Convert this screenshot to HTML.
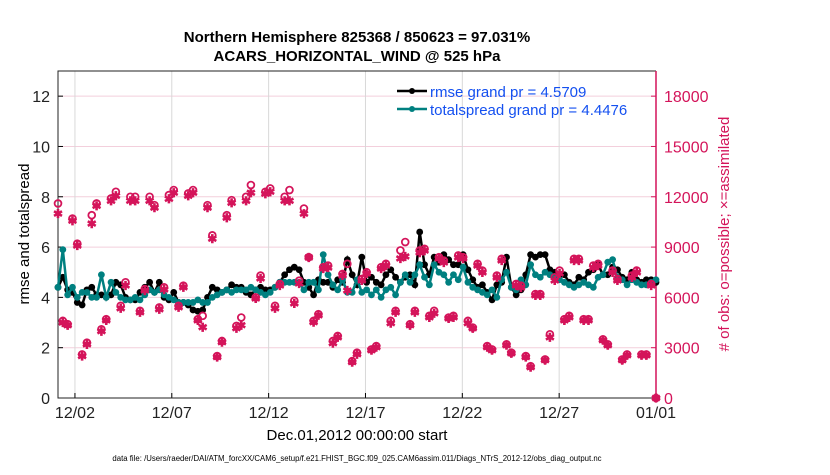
<!DOCTYPE html>
<html><head><meta charset="utf-8"><style>
body{margin:0;background:#fff;font-family:"Liberation Sans",sans-serif;}
</style></head><body>
<svg id="chart" width="830" height="470" xmlns="http://www.w3.org/2000/svg" font-family="Liberation Sans, sans-serif">
<rect width="830" height="470" fill="#fff"/>
<text x="357" y="42" text-anchor="middle" font-size="15" font-weight="bold">Northern Hemisphere 825368 / 850623 = 97.031%</text>
<text x="357" y="61" text-anchor="middle" font-size="15" font-weight="bold">ACARS_HORIZONTAL_WIND @ 525 hPa</text>
<g id="grid"></g>
<g id="axes"></g>
<g id="marks"></g>
<text transform="translate(29,234) rotate(-90)" text-anchor="middle" font-size="15">rmse and totalspread</text>
<text transform="translate(729,234) rotate(-90)" text-anchor="middle" font-size="15" fill="#d4145a"># of obs: o=possible; ×=assimilated</text>
<text x="357" y="440" text-anchor="middle" font-size="15">Dec.01,2012 00:00:00 start</text>
<text x="357" y="461" text-anchor="middle" font-size="7.8">data file: /Users/raeder/DAI/ATM_forcXX/CAM6_setup/f.e21.FHIST_BGC.f09_025.CAM6assim.011/Diags_NTrS_2012-12/obs_diag_output.nc</text>
<g id="legend">
<line x1="397" y1="91" x2="427" y2="91" stroke="#000" stroke-width="2.5"/><circle cx="412" cy="91" r="3" fill="#000"/>
<text x="430" y="97" font-size="15" fill="#1450f0">rmse grand pr = 4.5709</text>
<line x1="397" y1="109" x2="427" y2="109" stroke="#008080" stroke-width="2.5"/><circle cx="412" cy="109" r="3" fill="#008080"/>
<text x="430" y="115" font-size="15" fill="#1450f0">totalspread grand pr = 4.4476</text>
</g>
</svg>
<script>
const xTickLabels=["12/02","12/07","12/12","12/17","12/22","12/27","01/01"];
const xTickDays=[1,6,11,16,21,26,31];
const yTicks=[0,2,4,6,8,10,12];
const y2Ticks=[0,3000,6000,9000,12000,15000,18000];
const rmse=[4.4,4.8,4.3,4.2,3.8,3.7,4.3,4.4,4.1,4.1,4.0,
4.1,4.6,4.5,4.0,3.9,3.9,4.2,4.4,4.6,4.2,
4.6,4.0,3.9,4.2,3.8,3.8,3.7,3.5,3.45,3.5,
4.0,4.4,4.3,4.2,4.3,4.5,4.4,4.4,4.2,4.1,
4.3,4.4,4.3,4.3,4.4,4.6,4.9,5.1,5.2,5.1,
4.6,4.4,4.1,4.7,4.6,4.6,4.4,4.7,4.6,5.5,
4.9,4.5,5.6,4.6,4.8,4.6,4.5,4.9,5.1,4.8,
4.6,4.8,4.9,4.5,6.6,5.3,4.9,5.6,5.4,5.7,
5.5,5.3,5.3,5.7,5.1,4.7,4.4,4.5,4.2,3.9,
4.5,4.6,5.6,4.4,4.1,4.3,4.9,5.7,5.6,5.7,
5.7,5.1,5.0,4.9,4.9,4.6,4.5,4.8,4.7,5.0,
5.1,5.3,4.9,4.9,5.2,5.1,4.8,4.7,5.0,4.7,
4.6,4.7,4.7,4.6];
const spread=[4.4,5.9,4.1,4.4,4.0,4.2,4.2,4.0,4.0,4.9,4.0,
4.6,4.2,4.0,3.9,3.9,4.0,3.9,4.1,4.3,4.2,
4.3,4.1,4.0,3.9,3.8,3.8,3.8,3.8,3.9,3.8,
3.8,4.0,4.1,4.2,4.3,4.2,4.3,4.3,4.3,4.4,
4.3,4.2,4.1,4.2,4.4,4.6,4.6,4.6,4.6,4.6,
4.3,4.6,4.6,4.3,5.7,4.9,4.5,4.3,4.7,4.2,
4.2,4.7,4.2,4.3,4.1,4.3,4.0,4.3,4.4,4.1,
4.6,4.9,4.6,4.9,5.3,4.8,4.5,5.3,5.0,4.9,
4.6,4.9,4.7,5.2,4.6,4.4,4.3,4.2,4.1,4.3,
4.0,4.7,5.0,4.4,4.3,4.7,4.5,5.3,4.9,4.8,
5.0,4.9,4.8,4.7,4.6,4.5,4.4,4.5,4.6,4.5,
4.4,4.8,4.9,5.4,5.5,4.8,4.7,4.5,4.7,4.6,
4.5,4.5,4.6,4.7];
const nAssim=[11000,4500,4340,10570,9090,2500,3200,10400,11460,3980,4630,11760,12060,5350,6710,11760,11760,5110,6410,11760,11350,5290,6470,11880,12240,5410,6600,12060,12240,4630,4220,11350,9500,2440,3330,10750,11640,4160,4340,11760,12240,
5940,7130,12180,12300,5350,6710,11760,11760,5640,6830,10990,8380,4520,4930,7720,7780,3270,3620,7310,6410,2140,2610,7010,7430,2850,3030,7720,7900,4460,5110,8320,8440,4340,5110,8670,8790,4810,5050,8320,8080,4750,4810,
8380,8320,4460,4160,7900,7490,3030,2850,7190,8200,3150,2670,6710,6590,2440,1840,6120,6120,2260,3620,7010,7430,4630,4810,8200,8200,4630,4630,7780,7900,3450,3150,7490,7010,2260,2550,7190,7490,2550,2550,6710,0];
const nPoss=[11600,4600,4400,10700,9200,2600,3300,10900,11600,4100,4700,11900,12300,5500,6900,12000,12000,5200,6500,12000,11500,5400,6600,12100,12400,5500,6700,12200,12400,4700,4900,11500,9700,2500,3400,10900,11800,4300,4800,12000,12700,
6000,7300,12300,12500,5500,6800,12000,12400,5800,7000,11300,8400,4600,5000,7800,7900,3400,3700,7400,8000,2200,2700,7100,7500,2900,3100,7800,8000,4600,5200,8800,9300,4400,5200,8800,8900,4900,5200,8400,8200,4800,4900,
8500,8400,4600,4200,8000,7600,3100,2900,7300,8300,3200,2700,6800,6700,2500,1900,6200,6200,2300,3800,7200,7600,4700,4900,8300,8300,4700,4700,7900,8000,3500,3200,7600,7100,2300,2600,7300,7600,2600,2600,6800,0];

const L=58,R=656,T=71,B=398;
const D0=0.125,D1=31.0;
function xDay(d){return L+(d-D0)/(D1-D0)*(R-L);}
function xIdx(i){return xDay(D0+i*(D1-D0)/(rmse.length-1));}
function yL(v){return B-v/13*(B-T);}
function yR(v){return B-v/19500*(B-T);}
const NS="http://www.w3.org/2000/svg";
function mk(tag,attrs,parent){const e=document.createElementNS(NS,tag);for(const k in attrs)e.setAttribute(k,attrs[k]);document.getElementById(parent).appendChild(e);return e;}

yTicks.forEach((v,i)=>{
 if(v>0){const g=mk('line',{x1:L,x2:R,y1:yL(v),y2:yL(v),stroke:'#f3cfdc','stroke-width':1},'grid');
 
 }
 const t=mk('line',{x1:L,x2:L+5,y1:yL(v),y2:yL(v),stroke:'#000'},'axes');
 
 
 const lb=mk('text',{x:L-8,y:yL(v)+6,'text-anchor':'end','font-size':16,fill:'#222'},'axes');lb.textContent=v;
 
 
});
y2Ticks.forEach(v=>{
 const t=mk('line',{x1:R-5,x2:R,y1:yR(v),y2:yR(v),stroke:'#d4145a'},'axes');
 
 
 const lb=mk('text',{x:R+8,y:yR(v)+6,'font-size':16,fill:'#d4145a'},'axes');lb.textContent=v;
 
 
});
xTickDays.forEach((d,i)=>{
 const x=xDay(d);
 const g=mk('line',{x1:x,x2:x,y1:T,y2:B,stroke:'#d8d8d8'},'grid');
 
 
 const t=mk('line',{x1:x,x2:x,y1:B-5,y2:B,stroke:'#000'},'axes');
 
 
 const lb=mk('text',{x:x,y:B+20,'text-anchor':'middle','font-size':16,fill:'#222'},'axes');lb.textContent=xTickLabels[i];
 
 
});
const fr=mk('path',{d:`M${R},${T}H${L}V${B}H${R}`,fill:'none',stroke:'#222','stroke-width':1},'axes');


const ra=mk('line',{x1:R,x2:R,y1:T,y2:B,stroke:'#d4145a','stroke-width':1.5},'axes');



function series(arr,col,name){
 const p=mk('polyline',{points:arr.map((v,i)=>xIdx(i)+','+yL(v)).join(' '),fill:'none',stroke:col,'stroke-width':2.5},'marks');
 
 
 arr.forEach((v,i)=>{
  const c=mk('circle',{cx:xIdx(i),cy:yL(v),r:3.4,fill:col},'marks');
  
  
 });
}
series(rmse,'#000','rmse');
series(spread,'#008080','totalspread');

nAssim.forEach((v,i)=>{
 const x=xIdx(i),y=yR(v);
 let d='';for(let k=0;k<3;k++){const a=k*Math.PI/3+Math.PI/2;d+=`M${x-4.6*Math.cos(a)},${y-4.6*Math.sin(a)}L${x+4.6*Math.cos(a)},${y+4.6*Math.sin(a)}`;}
 const s=mk('path',{d:d,stroke:'#d4145a','stroke-width':2.6},'marks');
 
 
});
nPoss.forEach((v,i)=>{
 const c=mk('circle',{cx:xIdx(i),cy:yR(v),r:3.4,fill:'none',stroke:'#d4145a','stroke-width':1.8},'marks');
 
 
});
</script>
</body></html>
